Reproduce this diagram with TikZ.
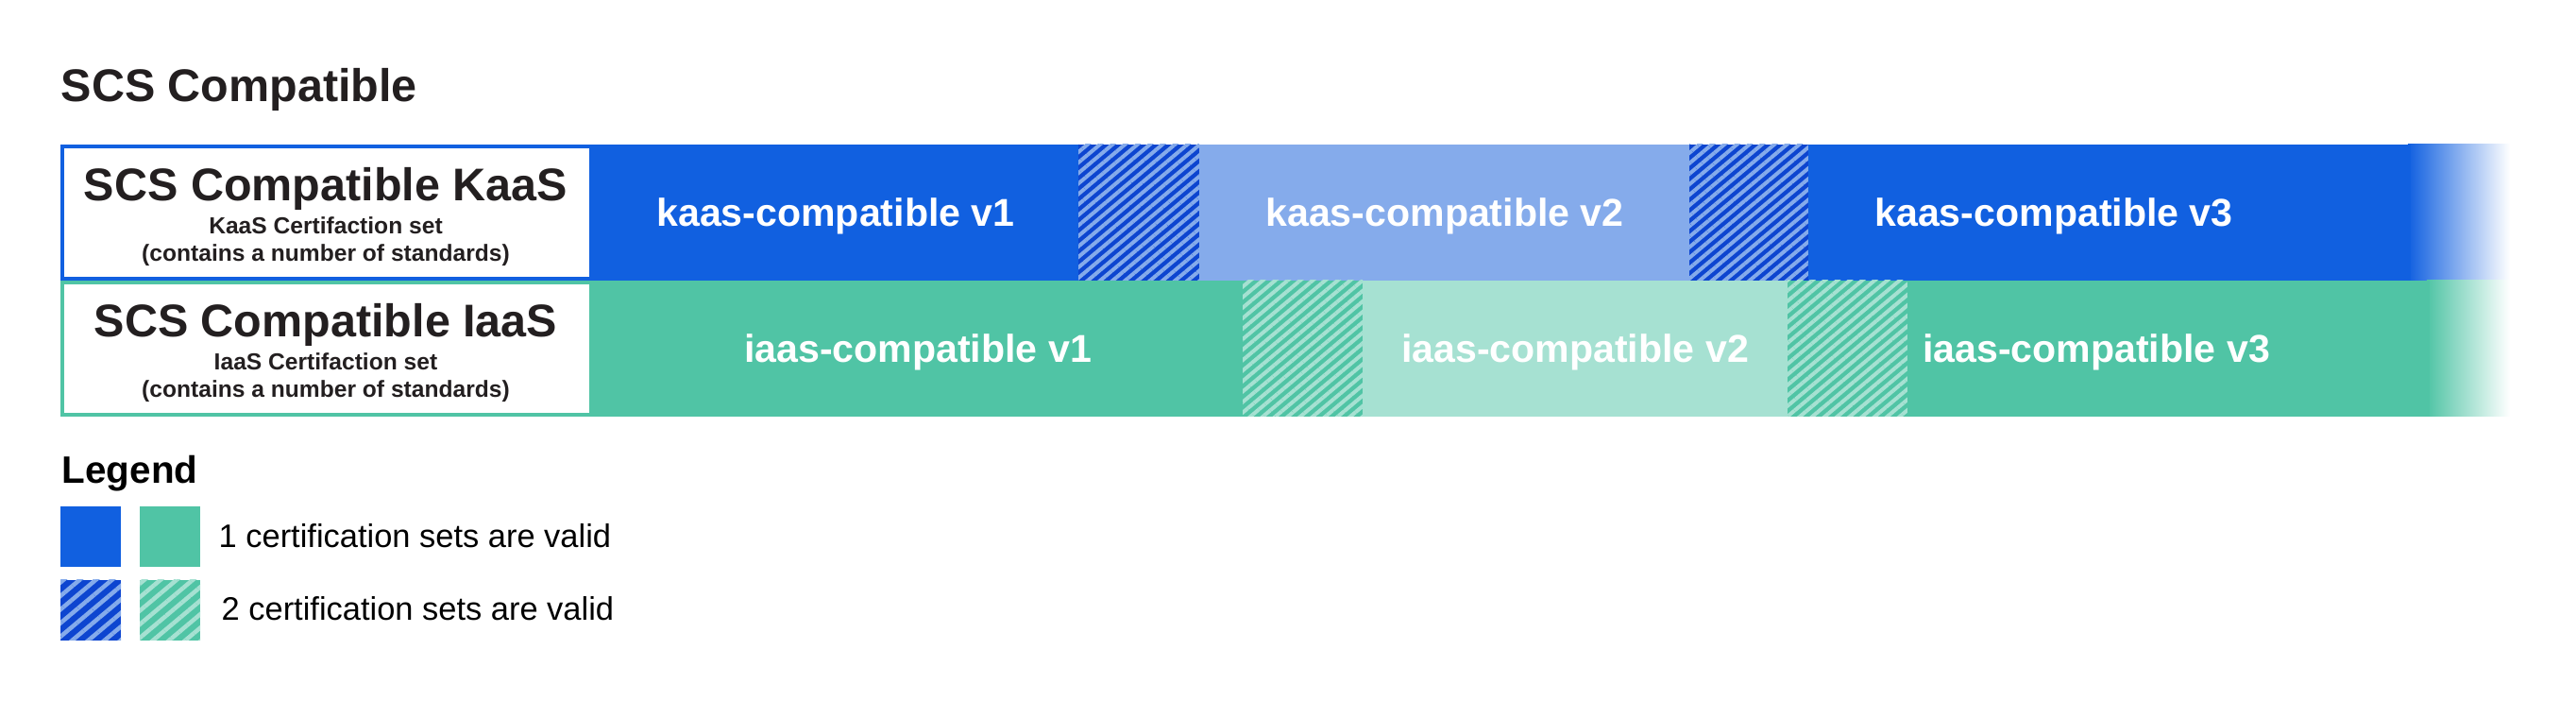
\documentclass[tikz,border=0pt]{standalone}
\usepackage{fontspec}
\setmainfont{Liberation Sans}
\usetikzlibrary{patterns,patterns.meta}

\definecolor{kaasblue}{HTML}{1160E0}
\definecolor{kaaslight}{HTML}{85ABEB}
\definecolor{kaasdark}{HTML}{0D45D0}
\definecolor{iaasgreen}{HTML}{50C4A5}
\definecolor{iaaslight}{HTML}{A6E1D2}
\definecolor{inkgray}{HTML}{231F20}

\begin{document}
\begin{tikzpicture}[
	seglabel/.style={text=white, anchor=base, font=\fontsize{11.7}{14}\selectfont\bfseries},
	boxtitle/.style={text=inkgray, anchor=base, font=\fontsize{13.8}{16}\selectfont\bfseries},
	boxsub/.style={text=inkgray, anchor=base, font=\fontsize{7}{8.5}\selectfont\bfseries},
	legendtext/.style={text=black, anchor=base west, font=\fontsize{9.8}{12}\selectfont},
	kaashatch/.style={fill=kaasdark, postaction={pattern={Lines[angle=40,distance=0.085cm,line width=0.04cm]}, pattern color=kaaslight}},
	iaashatch/.style={fill=iaasgreen, postaction={pattern={Lines[angle=40,distance=0.085cm,line width=0.04cm]}, pattern color=iaaslight}},
	]
	\useasboundingbox (0,0) rectangle (27.28,7.42);
	
	\node[boxtitle, anchor=base west, inner sep=0pt] (title) at (0.64,6.34) {SCS Compatible};
	
	% kaas row
	\shade[left color=kaasblue, right color=white] (25.50,4.45) rectangle (26.58,5.89);
	\fill[kaasblue] (6.26,4.45) rectangle (11.42,5.89);
	\fill[kaashatch] (11.42,4.45) rectangle (12.70,5.89);
	\fill[kaaslight] (12.70,4.45) rectangle (17.89,5.89);
	\fill[kaashatch] (17.89,4.45) rectangle (19.15,5.89);
	\fill[kaasblue] (19.15,4.45) rectangle (25.53,5.89);
	
	\draw[draw=kaasblue, line width=0.04cm, fill=white] (0.66,4.47) rectangle (6.26,5.87);
	\node[boxtitle] (kaasName) at (3.45,5.29) {SCS Compatible KaaS};
	\node[boxsub] (kaasSet) at (3.45,4.94) {KaaS Certifaction set};
	\node[boxsub] (kaasStd) at (3.45,4.65) {(contains a number of standards)};
	
	\node[seglabel] (kaasOne) at (8.85,5.02) {kaas-compatible v1};
	\node[seglabel] (kaasTwo) at (15.30,5.02) {kaas-compatible v2};
	\node[seglabel] (kaasThree) at (21.75,5.02) {kaas-compatible v3};
	
	% iaas row
	\begin{scope}[yshift=-1.44cm]
		\shade[left color=iaasgreen, right color=white] (25.70,4.45) rectangle (26.58,5.89);
		\fill[iaasgreen] (6.26,4.45) rectangle (13.16,5.89);
		\fill[iaashatch] (13.16,4.45) rectangle (14.43,5.89);
		\fill[iaaslight] (14.43,4.45) rectangle (18.93,5.89);
		\fill[iaashatch] (18.93,4.45) rectangle (20.20,5.89);
		\fill[iaasgreen] (20.20,4.45) rectangle (25.73,5.89);
		
		\draw[draw=iaasgreen, line width=0.04cm, fill=white] (0.66,4.47) rectangle (6.26,5.87);
		\node[boxtitle] (iaasName) at (3.45,5.29) {SCS Compatible IaaS};
		\node[boxsub] (iaasSet) at (3.45,4.94) {IaaS Certifaction set};
		\node[boxsub] (iaasStd) at (3.45,4.65) {(contains a number of standards)};
		
		\node[seglabel] (iaasOne) at (9.72,5.02) {iaas-compatible v1};
		\node[seglabel] (iaasTwo) at (16.68,5.02) {iaas-compatible v2};
		\node[seglabel] (iaasThree) at (22.20,5.02) {iaas-compatible v3};
	\end{scope}
	
	% legend
	\node[anchor=base west, inner sep=0pt, font=\fontsize{11.5}{14}\selectfont\bfseries] (legend) at (0.65,2.30) {Legend};
	
	\fill[kaasblue] (0.64,1.42) rectangle (1.28,2.06);
	\fill[iaasgreen] (1.48,1.42) rectangle (2.12,2.06);
	\node[legendtext, inner sep=0pt] (oneValid) at (2.31,1.62) {1 certification sets are valid};
	
	\fill[kaasdark, postaction={pattern={Lines[angle=40,distance=0.11cm,line width=0.045cm]}, pattern color=kaaslight}] (0.64,0.64) rectangle (1.28,1.28);
	\fill[iaasgreen, postaction={pattern={Lines[angle=40,distance=0.11cm,line width=0.045cm]}, pattern color=iaaslight}] (1.48,0.64) rectangle (2.12,1.28);
	\node[legendtext, inner sep=0pt] (twoValid) at (2.34,0.85) {2 certification sets are valid};
\end{tikzpicture}
\end{document}
